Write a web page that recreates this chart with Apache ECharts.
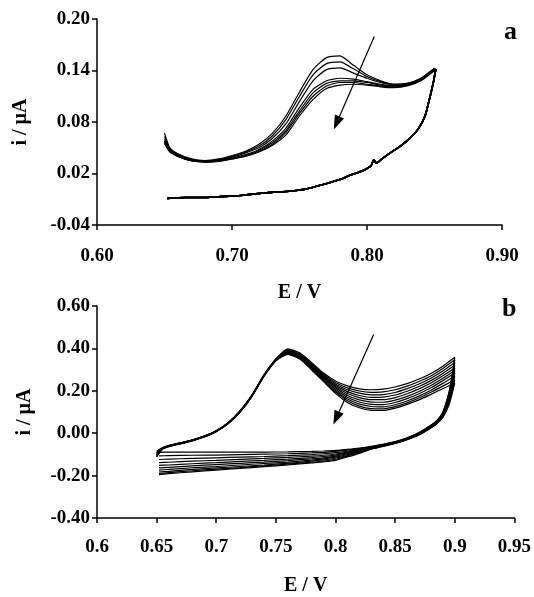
<!DOCTYPE html>
<html>
<head>
<meta charset="utf-8">
<script src="https://cdn.jsdelivr.net/npm/echarts@6/dist/echarts.min.js"></script>
<style>
html, body { margin: 0; padding: 0; background: #fff; }
#cv { width: 534px; height: 597px; }
</style>
</head>
<body>
<div id="cv"></div>
<script>
// ---- panel a : tick labels
var xLabelsA = ['0.60', '0.70', '0.80', '0.90'];
var yLabelsA = ['-0.04', '0.02', '0.08', '0.14', '0.20'];
// ---- panel b : tick labels
var xLabelsB = ['0.6', '0.65', '0.7', '0.75', '0.8', '0.85', '0.9', '0.95'];
var yLabelsB = ['-0.40', '-0.20', '0.00', '0.20', '0.40', '0.60'];

// panel a, forward scans (E / V), one current array per cycle (i / uA)
var fwdEA = [0.650, 0.654, 0.660, 0.670, 0.680, 0.690, 0.700, 0.710, 0.720, 0.730, 0.740,
	0.750, 0.760, 0.770, 0.780, 0.790, 0.800, 0.810, 0.820, 0.830, 0.840, 0.850];
var fwdA0 = [0.067, 0.050, 0.043, 0.037, 0.035, 0.037, 0.041, 0.046, 0.054, 0.067, 0.087, 0.115, 0.141, 0.155, 0.157, 0.146, 0.135, 0.128, 0.124, 0.125, 0.131, 0.143];
var fwdA1 = [0.063, 0.049, 0.042, 0.036, 0.035, 0.036, 0.040, 0.045, 0.052, 0.064, 0.083, 0.110, 0.135, 0.148, 0.150, 0.142, 0.133, 0.127, 0.124, 0.125, 0.131, 0.142];
var fwdA2 = [0.060, 0.048, 0.041, 0.036, 0.034, 0.036, 0.039, 0.044, 0.050, 0.061, 0.078, 0.104, 0.128, 0.141, 0.143, 0.137, 0.131, 0.126, 0.123, 0.124, 0.130, 0.142];
var fwdA3 = [0.058, 0.047, 0.041, 0.036, 0.034, 0.035, 0.038, 0.042, 0.048, 0.058, 0.073, 0.097, 0.118, 0.128, 0.131, 0.130, 0.127, 0.124, 0.122, 0.124, 0.130, 0.141];
var fwdA4 = [0.057, 0.046, 0.040, 0.035, 0.034, 0.035, 0.038, 0.041, 0.047, 0.056, 0.070, 0.093, 0.114, 0.125, 0.128, 0.128, 0.126, 0.123, 0.122, 0.123, 0.129, 0.141];
var fwdA5 = [0.056, 0.046, 0.040, 0.035, 0.034, 0.035, 0.037, 0.041, 0.046, 0.054, 0.068, 0.090, 0.110, 0.122, 0.126, 0.126, 0.124, 0.122, 0.121, 0.123, 0.129, 0.140];
var fwdA6 = [0.055, 0.045, 0.040, 0.035, 0.033, 0.034, 0.037, 0.040, 0.045, 0.053, 0.065, 0.087, 0.106, 0.119, 0.123, 0.124, 0.123, 0.121, 0.120, 0.122, 0.128, 0.140];
// panel a, reverse scan (all cycles lie on top of each other)
var revEA = [0.851, 0.849, 0.846, 0.843, 0.838, 0.831, 0.824, 0.818, 0.811, 0.807, 0.805, 0.803, 0.799,
	0.793, 0.786, 0.780, 0.767, 0.755, 0.740, 0.729, 0.715, 0.704, 0.690, 0.679, 0.665, 0.652];
var revA = [0.142, 0.125, 0.105, 0.087, 0.072, 0.060, 0.051, 0.045, 0.037, 0.032, 0.036, 0.029, 0.025,
	0.021, 0.017, 0.013, 0.007, 0.002, -0.001, -0.002, -0.004, -0.006, -0.007, -0.008, -0.008, -0.009];

// panel b, forward scans
var fwdEB = [0.650, 0.655, 0.660, 0.670, 0.680, 0.690, 0.700, 0.710, 0.720, 0.730, 0.740, 0.750, 0.760,
	0.770, 0.780, 0.790, 0.800, 0.810, 0.820, 0.830, 0.840, 0.850, 0.860, 0.870, 0.880, 0.890, 0.900];
var fwdB0 = [-0.085, -0.068, -0.058, -0.045, -0.031, -0.013, 0.012, 0.050, 0.106, 0.181, 0.275, 0.350, 0.398, 0.379, 0.333, 0.284, 0.246, 0.223, 0.209, 0.205, 0.208, 0.218, 0.234, 0.256, 0.282, 0.316, 0.358];
var fwdB1 = [-0.090, -0.069, -0.059, -0.046, -0.032, -0.014, 0.011, 0.049, 0.105, 0.180, 0.274, 0.349, 0.394, 0.375, 0.329, 0.279, 0.239, 0.214, 0.199, 0.193, 0.195, 0.205, 0.222, 0.244, 0.270, 0.305, 0.346];
var fwdB2 = [-0.094, -0.070, -0.060, -0.046, -0.032, -0.014, 0.011, 0.049, 0.104, 0.179, 0.273, 0.348, 0.391, 0.371, 0.325, 0.274, 0.232, 0.205, 0.189, 0.181, 0.182, 0.192, 0.210, 0.232, 0.259, 0.293, 0.333];
var fwdB3 = [-0.097, -0.071, -0.060, -0.047, -0.033, -0.015, 0.010, 0.048, 0.104, 0.178, 0.272, 0.347, 0.388, 0.368, 0.321, 0.270, 0.226, 0.196, 0.178, 0.169, 0.170, 0.180, 0.198, 0.220, 0.248, 0.282, 0.320];
var fwdB4 = [-0.100, -0.071, -0.061, -0.047, -0.033, -0.015, 0.010, 0.048, 0.103, 0.178, 0.272, 0.346, 0.385, 0.365, 0.318, 0.266, 0.220, 0.187, 0.168, 0.158, 0.158, 0.168, 0.186, 0.209, 0.237, 0.271, 0.308];
var fwdB5 = [-0.103, -0.072, -0.061, -0.048, -0.034, -0.016, 0.009, 0.047, 0.102, 0.177, 0.271, 0.345, 0.382, 0.362, 0.314, 0.262, 0.214, 0.178, 0.157, 0.147, 0.146, 0.156, 0.174, 0.197, 0.225, 0.259, 0.296];
var fwdB6 = [-0.105, -0.072, -0.062, -0.048, -0.034, -0.016, 0.009, 0.047, 0.102, 0.176, 0.270, 0.344, 0.380, 0.359, 0.311, 0.258, 0.207, 0.170, 0.147, 0.136, 0.135, 0.145, 0.163, 0.186, 0.214, 0.248, 0.284];
var fwdB7 = [-0.108, -0.073, -0.062, -0.049, -0.035, -0.017, 0.008, 0.046, 0.101, 0.176, 0.270, 0.343, 0.377, 0.356, 0.307, 0.253, 0.200, 0.161, 0.137, 0.126, 0.124, 0.134, 0.152, 0.175, 0.203, 0.235, 0.270];
var fwdB8 = [-0.110, -0.074, -0.063, -0.049, -0.035, -0.017, 0.008, 0.046, 0.100, 0.175, 0.269, 0.342, 0.375, 0.353, 0.303, 0.248, 0.194, 0.153, 0.128, 0.116, 0.115, 0.125, 0.143, 0.166, 0.193, 0.222, 0.252];
var fwdB9 = [-0.112, -0.075, -0.063, -0.050, -0.036, -0.018, 0.007, 0.045, 0.100, 0.174, 0.268, 0.341, 0.372, 0.350, 0.298, 0.243, 0.188, 0.145, 0.120, 0.108, 0.107, 0.118, 0.136, 0.157, 0.183, 0.210, 0.236];
// panel b, reverse scans
var revEB = [0.900, 0.898, 0.895, 0.890, 0.885, 0.880, 0.870, 0.860, 0.850, 0.840, 0.830, 0.820,
	0.810, 0.800, 0.790, 0.780, 0.760, 0.740, 0.720, 0.700, 0.680, 0.660, 0.652];
var revB0 = [0.358, 0.280, 0.190, 0.100, 0.060, 0.038, 0.003, -0.022, -0.040, -0.052, -0.062, -0.070, -0.076, -0.081, -0.084, -0.086, -0.088, -0.089, -0.089, -0.089, -0.089, -0.089, -0.090];
var revB1 = [0.346, 0.272, 0.185, 0.097, 0.058, 0.037, 0.002, -0.023, -0.041, -0.053, -0.064, -0.073, -0.080, -0.086, -0.090, -0.093, -0.097, -0.099, -0.101, -0.103, -0.104, -0.106, -0.107];
var revB2 = [0.333, 0.263, 0.179, 0.094, 0.056, 0.035, 0.001, -0.024, -0.042, -0.054, -0.066, -0.076, -0.085, -0.092, -0.097, -0.101, -0.106, -0.110, -0.113, -0.116, -0.119, -0.122, -0.124];
var revB3 = [0.320, 0.255, 0.172, 0.091, 0.055, 0.034, 0.000, -0.025, -0.043, -0.056, -0.068, -0.079, -0.089, -0.098, -0.104, -0.108, -0.114, -0.119, -0.123, -0.128, -0.132, -0.137, -0.139];
var revB4 = [0.308, 0.246, 0.166, 0.089, 0.053, 0.032, -0.001, -0.026, -0.044, -0.057, -0.069, -0.082, -0.093, -0.103, -0.110, -0.115, -0.122, -0.128, -0.133, -0.139, -0.144, -0.150, -0.152];
var revB5 = [0.296, 0.237, 0.160, 0.086, 0.052, 0.031, -0.003, -0.027, -0.045, -0.058, -0.071, -0.084, -0.097, -0.108, -0.116, -0.121, -0.129, -0.136, -0.142, -0.148, -0.154, -0.161, -0.164];
var revB6 = [0.284, 0.228, 0.153, 0.083, 0.050, 0.029, -0.004, -0.028, -0.046, -0.059, -0.072, -0.087, -0.101, -0.113, -0.121, -0.127, -0.136, -0.143, -0.150, -0.157, -0.163, -0.171, -0.174];
var revB7 = [0.270, 0.216, 0.146, 0.080, 0.048, 0.028, -0.005, -0.029, -0.047, -0.060, -0.073, -0.090, -0.105, -0.118, -0.126, -0.132, -0.142, -0.150, -0.157, -0.164, -0.171, -0.180, -0.183];
var revB8 = [0.252, 0.203, 0.138, 0.077, 0.046, 0.026, -0.007, -0.030, -0.047, -0.061, -0.074, -0.092, -0.108, -0.123, -0.131, -0.137, -0.146, -0.154, -0.162, -0.169, -0.177, -0.186, -0.190];
var revB9 = [0.236, 0.190, 0.130, 0.075, 0.045, 0.025, -0.008, -0.030, -0.048, -0.062, -0.075, -0.095, -0.112, -0.128, -0.135, -0.140, -0.150, -0.158, -0.166, -0.174, -0.182, -0.191, -0.195];

// arrows (start -> end, data coords)
var arrowA = [[0.8054, 0.1795], [0.7775, 0.0788]];
var arrowB = [[0.832, 0.466], [0.8006, 0.071]];

var fwdA = [fwdA0, fwdA1, fwdA2, fwdA3, fwdA4, fwdA5, fwdA6];
var fwdB = [fwdB0, fwdB1, fwdB2, fwdB3, fwdB4, fwdB5, fwdB6, fwdB7, fwdB8, fwdB9];
var revB = [revB0, revB1, revB2, revB3, revB4, revB5, revB6, revB7, revB8, revB9];

var FONT = '"Liberation Serif", "Times New Roman", serif';

function pairs(xs, ys) {
	var out = [];
	for (var i = 0; i < xs.length; i++) out.push([xs[i], ys[i]]);
	return out;
}

function line(idx, data, w) {
	return {
		type: 'line',
		xAxisIndex: idx,
		yAxisIndex: idx,
		data: data,
		symbol: 'none',
		smooth: 0.2,
		silent: true,
		lineStyle: { color: '#000', width: w }
	};
}

function arrow(a) {
	return {
		silent: true,
		symbol: ['none', 'triangle'],
		symbolSize: [10, 14],
		label: { show: false },
		lineStyle: { color: '#000', width: 1.2, type: 'solid' },
		itemStyle: { color: '#000' },
		data: [[{ coord: a[0] }, { coord: a[1] }]]
	};
}

function xAxis(idx, min, max, step, labels, margin) {
	return {
		type: 'value', gridIndex: idx, min: min, max: max, interval: step,
		name: 'E / V', nameLocation: 'middle', nameGap: 58,
		nameTextStyle: { fontFamily: FONT, fontWeight: 'bold', fontSize: 20, color: '#000' },
		axisLine: { onZero: false, lineStyle: { color: '#000', width: 1.5 } },
		axisTick: { length: 5, lineStyle: { color: '#000', width: 1.5 } },
		splitLine: { show: false },
		axisLabel: {
			margin: margin, fontFamily: FONT, fontWeight: 'bold', fontSize: 19, color: '#000',
			formatter: function (v, i) { return labels[i]; }
		}
	};
}

function yAxis(idx, min, max, step, labels, gap) {
	return {
		type: 'value', gridIndex: idx, min: min, max: max, interval: step,
		name: 'i / µA', nameLocation: 'middle', nameGap: gap, nameRotate: 90,
		nameTextStyle: { fontFamily: FONT, fontWeight: 'bold', fontSize: 20, color: '#000' },
		axisLine: { onZero: false, lineStyle: { color: '#000', width: 1.5 } },
		axisTick: { length: 5, lineStyle: { color: '#000', width: 1.5 } },
		splitLine: { show: false },
		axisLabel: {
			margin: 7, fontFamily: FONT, fontWeight: 'bold', fontSize: 19, color: '#000',
			formatter: function (v, i) { return labels[i]; }
		}
	};
}

var series = [];
fwdA.forEach(function (c, k) {
	var s = line(0, pairs(fwdEA, c), 1.2);
	if (k === 0) s.markLine = arrow(arrowA);
	series.push(s);
	series.push(line(0, pairs(revEA, revA), 1.6));
});
fwdB.forEach(function (c, k) {
	var s = line(1, pairs(fwdEB, c).concat(pairs(revEB, revB[k])), 1.2);
	if (k === 0) s.markLine = arrow(arrowB);
	series.push(s);
});

var chart = echarts.init(document.getElementById('cv'));
chart.setOption({
	animation: false,
	backgroundColor: '#fff',
	grid: [
		{ left: 97, top: 19, width: 405, height: 206 },
		{ left: 97, top: 306, width: 418, height: 218 }
	],
	xAxis: [
		xAxis(0, 0.6, 0.9, 0.1, xLabelsA, 22),
		xAxis(1, 0.6, 0.95, 0.05, xLabelsB, 20)
	],
	yAxis: [
		yAxis(0, -0.04, 0.20, 0.06, yLabelsA, 66),
		yAxis(1, -0.4, 0.6, 0.2, yLabelsB, 62)
	],
	graphic: [
		{ type: 'text', left: 504, top: 19, style: { text: 'a', font: 'bold 26px ' + FONT, fill: '#000' } },
		{ type: 'text', left: 502, top: 296, style: { text: 'b', font: 'bold 26px ' + FONT, fill: '#000' } }
	],
	series: series
});
</script>
</body>
</html>
